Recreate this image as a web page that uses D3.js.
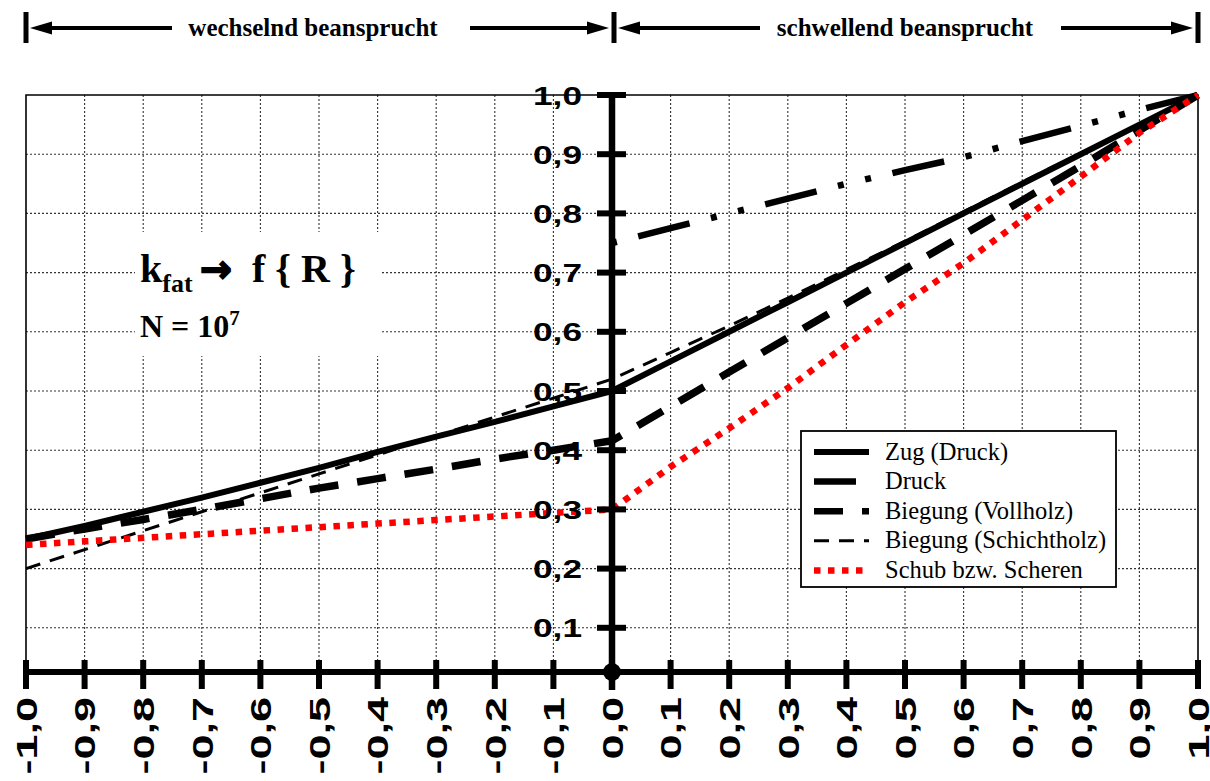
<!DOCTYPE html>
<html>
<head>
<meta charset="utf-8">
<script src="https://cdn.jsdelivr.net/npm/d3@7"></script>
<style>
  html, body { margin: 0; padding: 0; background: #fff; }
  svg { display: block; }
</style>
</head>
<body>
<svg id="chart" width="1210" height="781"></svg>
<script>
// Stress ratio R (x) and fatigue factor k_fat (y)
const ratios = [-1.0, -0.9, -0.8, -0.7, -0.6, -0.5, -0.4, -0.3, -0.2, -0.1, 0.0,
                 0.1, 0.2, 0.3, 0.4, 0.5, 0.6, 0.7, 0.8, 0.9, 1.0];

const zugDruck     = [0.250, 0.272, 0.296, 0.320, 0.345, 0.370, 0.397, 0.423, 0.448, 0.474, 0.500,
                      0.550, 0.600, 0.650, 0.700, 0.750, 0.800, 0.850, 0.900, 0.950, 1.000];
const druck        = [null, null, null, null, null, null, null, null, null, null, 0.750,
                      0.775, 0.800, 0.825, 0.850, 0.873, 0.895, 0.922, 0.948, 0.975, 1.000];
const biegungVoll  = [0.250, 0.267, 0.283, 0.300, 0.318, 0.336, 0.352, 0.368, 0.385, 0.400, 0.416,
                      0.474, 0.532, 0.590, 0.648, 0.706, 0.764, 0.822, 0.880, 0.940, 1.000];
const biegungSchicht = [0.200, 0.232, 0.264, 0.296, 0.328, 0.360, 0.392, 0.424, 0.456, 0.488, 0.520,
                      0.565, 0.610, 0.657, 0.705, 0.753, 0.803, 0.853, 0.902, 0.951, 1.000];
const schub        = [0.240, 0.246, 0.252, 0.258, 0.264, 0.270, 0.276, 0.282, 0.288, 0.294, 0.300,
                      0.372, 0.437, 0.505, 0.578, 0.650, 0.716, 0.789, 0.862, 0.936, 1.000];

const seriesNames = ["Zug (Druck)", "Druck", "Biegung (Vollholz)", "Biegung (Schichtholz)", "Schub bzw. Scheren"];
const seriesValues = [zugDruck, druck, biegungVoll, biegungSchicht, schub];

const xTickValues = [-1.0, -0.9, -0.8, -0.7, -0.6, -0.5, -0.4, -0.3, -0.2, -0.1, 0.0,
                      0.1, 0.2, 0.3, 0.4, 0.5, 0.6, 0.7, 0.8, 0.9, 1.0];
const xTickLabels = ["-1,0", "-0,9", "-0,8", "-0,7", "-0,6", "-0,5", "-0,4", "-0,3", "-0,2", "-0,1", "0,0",
                     "0,1", "0,2", "0,3", "0,4", "0,5", "0,6", "0,7", "0,8", "0,9", "1,0"];
const yTickValues = [0.1, 0.2, 0.3, 0.4, 0.5, 0.6, 0.7, 0.8, 0.9, 1.0];
const yTickLabels = ["0,1", "0,2", "0,3", "0,4", "0,5", "0,6", "0,7", "0,8", "0,9", "1,0"];

const headerLeft = "wechselnd beansprucht";
const headerRight = "schwellend beansprucht";

// Line styles, in the same order as seriesNames
const styles = [
  { color: "#000", width: 6,   dash: null,              legendOffset: 0 },
  { color: "#000", width: 6.5, dash: "53,22,6,22,6,22", offset: 104, legendOffset: 11 },
  { color: "#000", width: 7.5, dash: "29,19",           legendOffset: 0 },
  { color: "#000", width: 3,   dash: "15,10",           legendOffset: 0 },
  { color: "#ff0000", width: 6.5, dash: "6.5,7.5",      legendOffset: 0 }
];

const svg = d3.select("#chart");
const W = 1210, H = 781;
svg.append("rect").attr("width", W).attr("height", H).attr("fill", "#fff");

const x = d3.scaleLinear().domain([-1, 1]).range([26, 1198]);
const y = d3.scaleLinear().domain([0, 1]).range([687, 95]);
const AXIS_Y = 672;       // drawn position of the horizontal R axis
const SANS = "'Liberation Sans', Arial, sans-serif";
const SERIF = "'Liberation Serif', 'Times New Roman', serif";

// ---- grid ----
const grid = svg.append("g").attr("stroke", "#333").attr("stroke-width", 1.1)
  .attr("stroke-dasharray", "2,2");
grid.selectAll("line.v").data(xTickValues.filter(v => Math.abs(v) > 1e-9 && Math.abs(v) < 1))
  .join("line").attr("class", "v")
  .attr("x1", d => x(d)).attr("x2", d => x(d))
  .attr("y1", y(1)).attr("y2", AXIS_Y);
grid.selectAll("line.h").data(yTickValues.filter(v => v < 1))
  .join("line").attr("class", "h")
  .attr("x1", x(-1)).attr("x2", x(1))
  .attr("y1", d => y(d)).attr("y2", d => y(d));

// ---- frame ----
svg.append("path")
  .attr("d", `M${x(-1)},${AXIS_Y} V${y(1)} H${x(1)} V${AXIS_Y}`)
  .attr("fill", "none").attr("stroke", "#000").attr("stroke-width", 1.6);

// ---- title block ----
const tb = svg.append("g");
tb.append("rect").attr("x", 135).attr("y", 232).attr("width", 245).attr("height", 124).attr("fill", "#fff");
const t1 = tb.append("text").attr("y", 282)
  .attr("font-family", SERIF).attr("font-weight", "bold").attr("font-size", 40).attr("fill", "#000");
t1.append("tspan").attr("x", 140).text("k");
t1.append("tspan").attr("font-size", 26).attr("dy", 10).text("fat");
t1.append("tspan").attr("x", 200).attr("dy", -10).attr("font-family", "'DejaVu Sans', sans-serif")
  .attr("font-size", 38).attr("stroke", "#000").attr("stroke-width", 1.8).text("→");
t1.append("tspan").attr("x", 252).text("f { R }");
const t2 = tb.append("text").attr("x", 140).attr("y", 337)
  .attr("font-family", SERIF).attr("font-weight", "bold").attr("font-size", 32).attr("fill", "#000");
t2.append("tspan").text("N = 10");
t2.append("tspan").attr("font-size", 21).attr("dy", -12).text("7");

// ---- data lines ----
const line = d3.line()
  .defined(d => d.k != null)
  .x(d => x(d.r))
  .y(d => y(d.k));

const lines = svg.append("g").attr("fill", "none");
seriesValues.forEach((vals, i) => {
  const st = styles[i];
  const pts = ratios.map((r, j) => ({ r, k: vals[j] }));
  const p = lines.append("path")
    .attr("d", line(pts))
    .attr("stroke", st.color)
    .attr("stroke-width", st.width)
    .attr("stroke-linejoin", "round");
  if (st.dash) p.attr("stroke-dasharray", st.dash).attr("stroke-dashoffset", st.offset || 0);
});

// ---- vertical axis (k_fat) ----
const x0 = x(0);
svg.append("line").attr("x1", x0).attr("x2", x0).attr("y1", 92).attr("y2", 690)
  .attr("stroke", "#000").attr("stroke-width", 6.5);
svg.append("g").selectAll("line").data(yTickValues).join("line")
  .attr("x1", x0 - 15).attr("x2", x0 + 14)
  .attr("y1", d => y(d)).attr("y2", d => y(d))
  .attr("stroke", "#000").attr("stroke-width", 6);
svg.append("g").selectAll("text").data(yTickValues).join("text")
  .attr("transform", d => `translate(${x0 - 30},${y(d) + 9.5}) scale(1.33,1)`)
  .attr("text-anchor", "end")
  .attr("font-family", SANS).attr("font-weight", "bold").attr("font-size", 26.5)
  .text((d, i) => yTickLabels[i]);

// ---- horizontal axis (R) ----
svg.append("line").attr("x1", x(-1)).attr("x2", x(1)).attr("y1", AXIS_Y).attr("y2", AXIS_Y)
  .attr("stroke", "#000").attr("stroke-width", 6);
svg.append("g").selectAll("line").data(xTickValues.filter(v => Math.abs(v) > 1e-9)).join("line")
  .attr("x1", d => x(d)).attr("x2", d => x(d))
  .attr("y1", AXIS_Y - 12).attr("y2", AXIS_Y + 17)
  .attr("stroke", "#000").attr("stroke-width", 6);
svg.append("circle").attr("cx", x0).attr("cy", AXIS_Y).attr("r", 9).attr("fill", "#000");
svg.append("g").selectAll("text").data(xTickValues).join("text")
  .attr("transform", d => `translate(${x(d)},697) rotate(-90) scale(1.5,1)`)
  .attr("text-anchor", "end")
  .attr("dy", "0.36em")
  .attr("font-family", SANS).attr("font-weight", "bold").attr("font-size", 30)
  .text((d, i) => xTickLabels[i]);

// ---- header with range arrows ----
const hdr = svg.append("g");
function bar(xp) {
  hdr.append("rect").attr("x", xp - 2.5).attr("y", 12).attr("width", 5).attr("height", 31).attr("fill", "#000");
}
function arrow(xStart, xTip) {
  const dir = xTip > xStart ? 1 : -1;
  const base = xTip - dir * 22;
  hdr.append("line").attr("x1", xStart).attr("x2", base).attr("y1", 28).attr("y2", 28)
    .attr("stroke", "#000").attr("stroke-width", 4);
  hdr.append("path").attr("d", `M${xTip},28 L${base},21.5 L${base},34.5 Z`).attr("fill", "#000");
}
bar(x(-1)); bar(x0 + 2); bar(x(1));
arrow(172, x(-1) + 4);
arrow(470, x0 - 3);
arrow(760, x0 + 6);
arrow(1061, x(1) - 5);
hdr.append("text").attr("x", 313).attr("y", 36).attr("text-anchor", "middle")
  .attr("font-family", SERIF).attr("font-weight", "bold").attr("font-size", 25).text(headerLeft);
hdr.append("text").attr("x", 905).attr("y", 36).attr("text-anchor", "middle")
  .attr("font-family", SERIF).attr("font-weight", "bold").attr("font-size", 25).text(headerRight);

// ---- legend ----
const lg = svg.append("g").attr("transform", "translate(801,431)");
lg.append("rect").attr("width", 315).attr("height", 156).attr("fill", "#fff")
  .attr("stroke", "#000").attr("stroke-width", 1.8);
seriesNames.forEach((name, i) => {
  const st = styles[i];
  const cy = 21 + i * 29.6;
  const s = lg.append("line").attr("x1", 13).attr("x2", 68).attr("y1", cy).attr("y2", cy)
    .attr("stroke", st.color).attr("stroke-width", Math.min(st.width, 6.5));
  if (st.dash) s.attr("stroke-dasharray", st.dash).attr("stroke-dashoffset", st.legendOffset);
  lg.append("text").attr("x", 84).attr("y", cy + 7.5)
    .attr("font-family", SERIF).attr("font-size", 24.5).text(name);
});
</script>
</body>
</html>
